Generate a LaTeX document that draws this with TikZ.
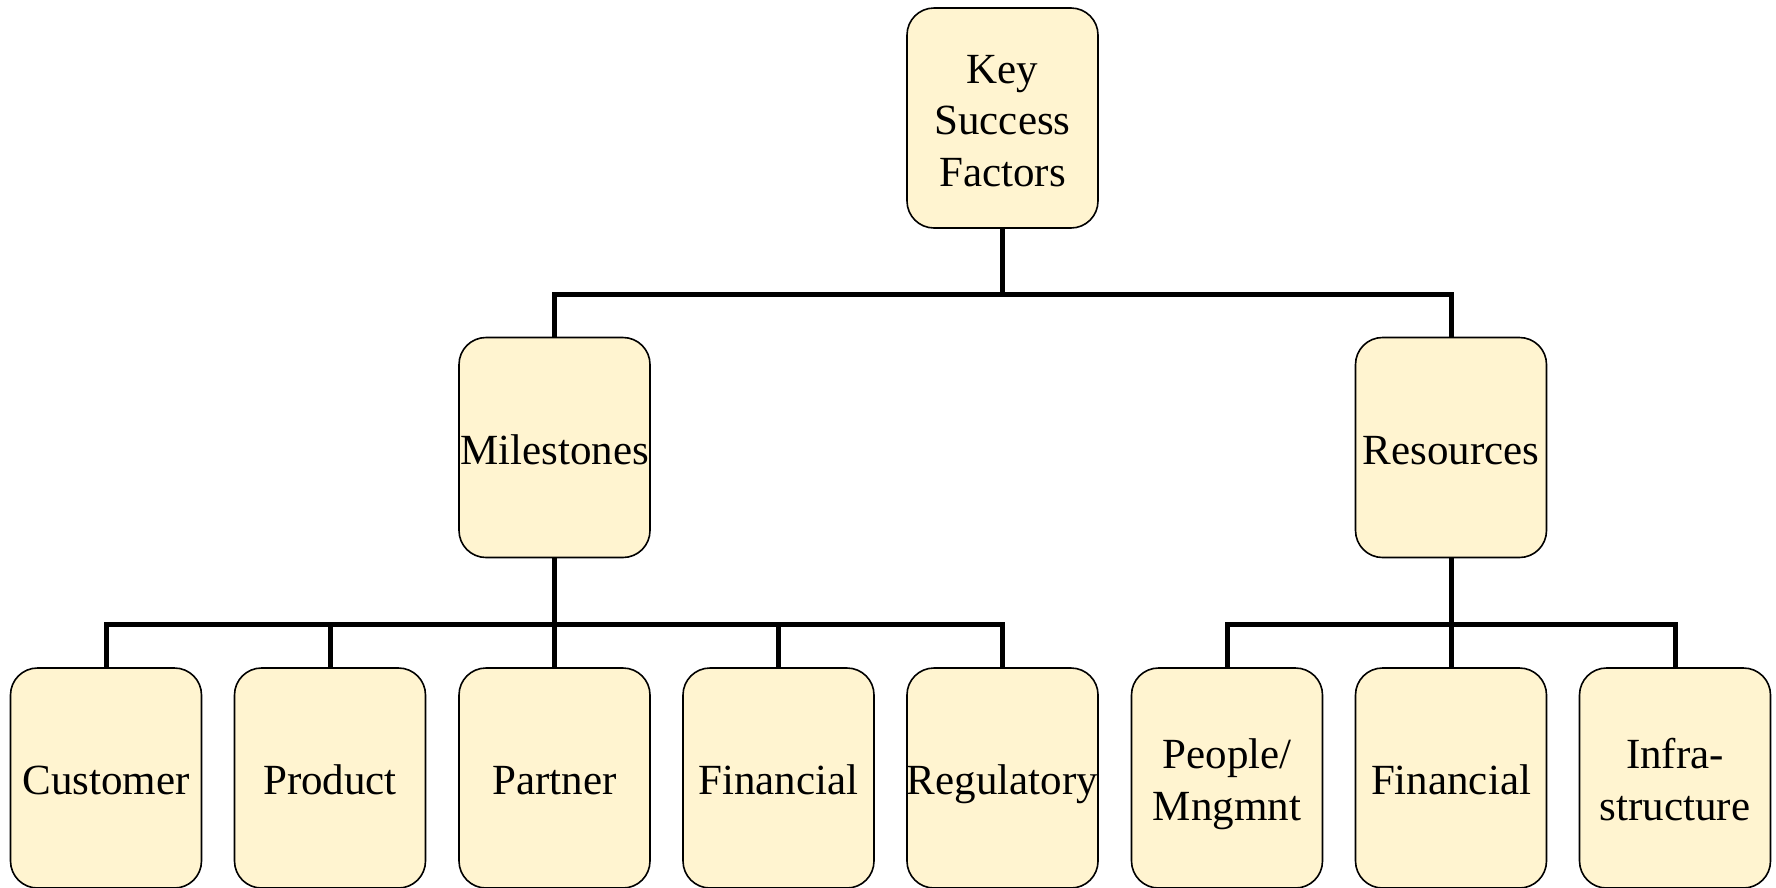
\documentclass[tikz,border=0pt]{standalone}
\usepackage{fontspec}
\setmainfont{Liberation Serif}
\definecolor{boxfill}{HTML}{FFF4D0}
% box label: optional argument = number of lines; the block of lines is
% placed so that its middle baseline sits 16.5pt below the box centre
\newcommand{\ksflabel}[2][1]{%
  \raisebox{0pt}[\dimexpr 116.5pt-25.75pt*(#1-1)\relax][\dimexpr 83.5pt+25.75pt*(#1-1)\relax]{%
    \begin{tabular}[t]{@{}c@{}}#2\end{tabular}}}
\tikzset{
  ksf/.style={draw=black, line width=1.6pt, fill=boxfill, rounded corners=27pt,
    minimum width=191pt, minimum height=220pt, inner sep=0pt,
    font=\fontsize{43}{51.5}\selectfont},
  conn/.style={draw=black, line width=5pt}
}
\begin{document}
\begin{tikzpicture}[x=1pt, y=-1pt]
\useasboundingbox (0,0) rectangle (1776,887);

% top level
\node[ksf] (top) at (1002.5,118) {\ksflabel[3]{Key\\Success\\Factors}};

% second level
\node[ksf] (mil) at (554.5,447.5) {\ksflabel{Milestones}};
\node[ksf] (res) at (1451,447.5) {\ksflabel{Resources}};

% third level
\node[ksf] (cust)  at (106,778)    {\ksflabel{Customer}};
\node[ksf] (prod)  at (330,778)    {\ksflabel{Product}};
\node[ksf] (part)  at (554.5,778)  {\ksflabel{Partner}};
\node[ksf] (finA)  at (778.5,778)  {\ksflabel{Financial}};
\node[ksf] (reg)   at (1002.5,778) {\ksflabel{Regulatory}};
\node[ksf] (ppl)   at (1227,778)   {\ksflabel[2]{People/\\Mngmnt}};
\node[ksf] (finB)  at (1451,778)   {\ksflabel{Financial}};
\node[ksf] (infra) at (1675,778)   {\ksflabel[2]{Infra-\\structure}};

% bus junctions
\coordinate (busTop) at (1002.5,294.5);
\coordinate (busMil) at (554.5,624);
\coordinate (busRes) at (1451,624);

% connectors
\draw[conn] (top.south) -- (busTop);
\draw[conn] (mil.north) |- (busTop) -| (res.north);

\draw[conn] (mil.south) -- (busMil);
\draw[conn] (cust.north) |- (busMil) -| (reg.north);
\draw[conn] (prod.north) -- (prod.north |- busMil);
\draw[conn] (part.north) -- (busMil);
\draw[conn] (finA.north) -- (finA.north |- busMil);

\draw[conn] (res.south) -- (finB.north);
\draw[conn] (ppl.north) |- (busRes) -| (infra.north);
\end{tikzpicture}
\end{document}
